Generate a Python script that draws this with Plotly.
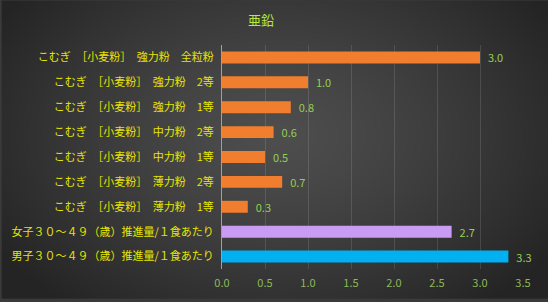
import base64, struct, zlib
import numpy as np
import plotly.graph_objects as go

categories = [
    "こむぎ　［小麦粉］　強力粉　全粒粉",
    "こむぎ　［小麦粉］　強力粉　2等",
    "こむぎ　［小麦粉］　強力粉　1等",
    "こむぎ　［小麦粉］　中力粉　2等",
    "こむぎ　［小麦粉］　中力粉　1等",
    "こむぎ　［小麦粉］　薄力粉　2等",
    "こむぎ　［小麦粉］　薄力粉　1等",
    "女子３０～４９（歳）推進量/１食あたり",
    "男子３０～４９（歳）推進量/１食あたり",
]
values = [3.0, 1.0, 0.8, 0.6, 0.5, 0.7, 0.3, 2.67, 3.33]
bar_colors = ["#F07E2E"] * 7 + ["#C99BF2", "#00B0F0"]
x_ticks = [0.0, 0.5, 1.0, 1.5, 2.0, 2.5, 3.0, 3.5]

W, H = 548, 302
ML, MR, MT, MB = 221, 25, 45, 30


def gradient_png(w, h):
    yy, xx = np.mgrid[0:h, 0:w].astype(float)
    cx, cy = w * 0.5, h * 0.45
    d = np.sqrt(((xx - cx) / (w * 0.6)) ** 2 + ((yy - cy) / (h * 0.75)) ** 2)
    d = np.clip(d, 0, 1)
    v = (78 - (78 - 36) * d ** 1.3).astype(np.uint8)
    raw = b"".join(b"\x00" + bytes(np.repeat(v[r][:, None], 3, axis=1).ravel()) for r in range(h))

    def chunk(t, data):
        c = struct.pack(">I", len(data)) + t + data
        return c + struct.pack(">I", zlib.crc32(t + data) & 0xFFFFFFFF)

    png = b"\x89PNG\r\n\x1a\n" + chunk(b"IHDR", struct.pack(">IIBBBBB", w, h, 8, 2, 0, 0, 0))
    png += chunk(b"IDAT", zlib.compress(raw, 9)) + chunk(b"IEND", b"")
    return "data:image/png;base64," + base64.b64encode(png).decode()


pw = W - ML - MR
ph = H - MT - MB

fig = go.Figure(
    go.Bar(
        x=values,
        y=categories,
        orientation="h",
        marker=dict(color=bar_colors, line=dict(width=0)),
        texttemplate="\u00a0\u00a0%{x:.1f}",
        textposition="outside",
        constraintext="none",
        textfont=dict(color="#92D050", size=11, family="Noto Sans CJK JP"),
        cliponaxis=False,
        width=0.48,
    )
)

fig.update_layout(
    width=W,
    height=H,
    margin=dict(l=ML, r=MR, t=MT, b=MB),
    paper_bgcolor="#3a3a3a",
    plot_bgcolor="rgba(0,0,0,0)",
    showlegend=False,
    title=dict(
        text="亜鉛",
        x=261 / W,
        xanchor="center",
        y=1 - 20 / H,
        yanchor="middle",
        font=dict(color="#B8E83C", size=13, family="Noto Sans CJK JP"),
    ),
    font=dict(family="Noto Sans CJK JP"),
    images=[
        dict(
            source=gradient_png(W, H),
            xref="paper",
            yref="paper",
            x=-ML / pw,
            y=1 + MT / ph,
            sizex=W / pw,
            sizey=H / ph,
            xanchor="left",
            yanchor="top",
            sizing="stretch",
            layer="below",
        )
    ],
    xaxis=dict(
        range=[0, 3.5],
        tickvals=x_ticks,
        ticktext=[f"{t:.1f}" for t in x_ticks],
        showgrid=True,
        gridcolor="rgba(255,255,255,0.12)",
        gridwidth=1,
        zeroline=False,
        showline=False,
        tickfont=dict(color="#8DB85A", size=11, family="Noto Sans CJK JP"),
        ticks="",
        ticklabelstandoff=6,
    ),
    yaxis=dict(
        autorange="reversed",
        showgrid=False,
        showline=True,
        linecolor="#A0A0A0",
        linewidth=1,
        ticks="",
        ticksuffix="  ",
        tickfont=dict(color="#E6E600", size=11, family="Noto Sans CJK JP"),
    ),
)

fig.write_html("out.html")
